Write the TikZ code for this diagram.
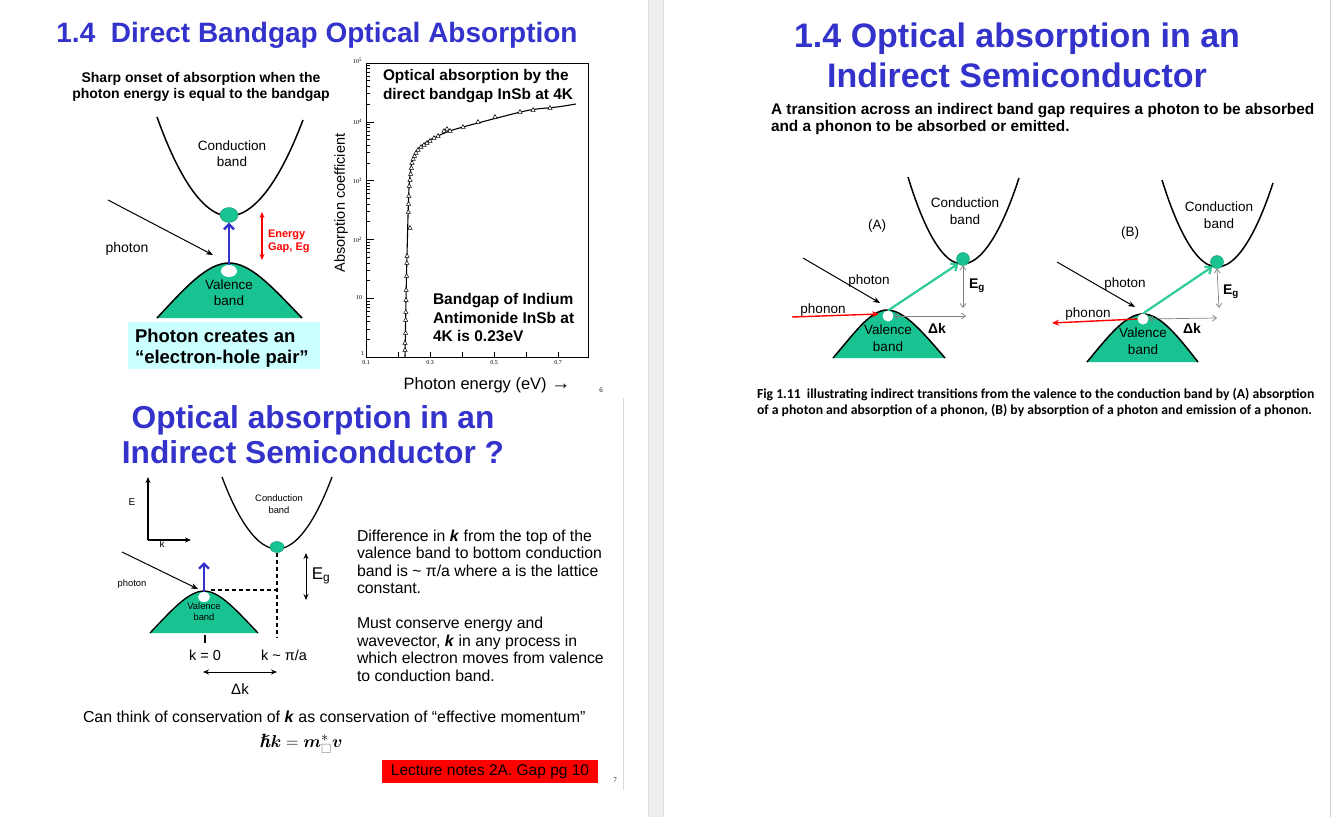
\documentclass[tikz,border=0pt]{standalone}
\usepackage{amsmath,amssymb,bm}
\usepackage{fontspec}
\setmainfont{Liberation Sans}
\newfontfamily\calfont{Carlito}
\newfontfamily\serfont{Liberation Serif}
\usetikzlibrary{arrows.meta,shapes.geometric}
\definecolor{ttl}{RGB}{51,51,204}
\definecolor{grn}{RGB}{25,195,145}
\definecolor{garrow}{RGB}{45,205,150}
\definecolor{cyanbox}{RGB}{204,255,255}
\definecolor{sep}{RGB}{238,238,238}
\definecolor{sepline}{RGB}{218,218,218}
\newcommand\fz[2]{\fontsize{#1pt}{#2pt}\selectfont}
\begin{document}
\begin{tikzpicture}[x=1pt,y=-1pt,
  every node/.style={inner sep=0pt,outer sep=0pt},
  band/.style={line width=1.5pt},
  bandS/.style={line width=1.3pt},
  photonarr/.style={line width=1pt,-{Stealth[length=7pt,width=5.5pt]}},
  bluearr/.style={draw=ttl,line width=2.6pt,-{Straight Barb[length=5pt,width=10pt]}},
  greenarr/.style={draw=garrow,line width=2.2pt,-{Straight Barb[length=5pt,width=9pt]}},
  phononarr/.style={draw=red,line width=1.4pt,-{Stealth[length=7pt,width=6pt]}},
  grayarr/.style={draw=gray,line width=0.7pt,{Straight Barb[length=4pt,width=6pt]}-{Straight Barb[length=4pt,width=6pt]}},
  dblarr/.style={line width=1pt,{Stealth[length=6pt,width=5pt]}-{Stealth[length=6pt,width=5pt]}},
  electron/.style={ellipse,fill=grn,draw=grn!75!black,line width=0.4pt},
  hole/.style={ellipse,fill=white},
  dashln/.style={line width=1.2pt,dash pattern=on 4pt off 3pt},
  ]
\useasboundingbox (0,0) rectangle (1334,817);
\fill[white] (0,0) rectangle (1334,817);
\fill[sep] (648,0) rectangle (663,817);
\draw[sepline,line width=0.8pt] (648,0) -- (648,817) (663,0) -- (663,817);
\draw[gray!40,line width=0.8pt] (1330,0) -- (1330,817);
\draw[gray!30,line width=0.8pt] (623,398) -- (623,790);

% ================= slide 6 =================
\node[font=\bfseries\fz{28}{32},text=ttl] (t6) at (317,35) {1.4\ \ Direct Bandgap Optical Absorption};
\node[font=\bfseries\fz{14}{16},align=center] (s6) at (201,87.4) {Sharp onset of absorption when the\\photon energy is equal to the bandgap};

\draw[band] (157,117) parabola bend (229,216) (303,120);
\node[font=\fz{13.5}{16},align=center] (cb6) at (232,154) {Conduction\\band};
\fill[grn] (157,318) .. controls (185,288) and (207,263) .. (229,263) .. controls (251,263) and (273,288) .. (302,318) -- cycle;
\draw[band] (157,318) .. controls (185,288) and (207,263) .. (229,263) .. controls (251,263) and (273,288) .. (302,318);
\node[font=\fz{13.5}{16},align=center] (vb6) at (229,293) {Valence\\band};
\node[electron,minimum width=18pt,minimum height=15pt] (e6) at (229,215) {};
\node[hole,minimum width=16pt,minimum height=12pt] (h6) at (229,271) {};
\draw[bluearr] (h6.north) -- (e6.south);
\coordinate (p6s) at (108,200);
\coordinate (p6e) at (213,255);
\draw[photonarr] (p6s) -- (p6e);
\node[font=\fz{14}{16}] (ph6) at (127,248.4) {photon};
\coordinate (g6t) at (262,212);
\coordinate (g6b) at (262,260);
\draw[dblarr,draw=red,line width=1.3pt] (g6t) -- (g6b);
\node[font=\bfseries\fz{11}{12.5},text=red,align=left,anchor=west] (eg6) at (268,241.5) {Energy\\Gap, Eg};

\node[fill=cyanbox,minimum width=192pt,minimum height=47pt] (cy) at (224,345.5) {};
\node[font=\bfseries\fz{18.5}{21},align=left,anchor=west] (cyt) at (135,348.3) {Photon creates an\\“electron-hole pair”};

% graph
\draw[line width=0.9pt] (366,63) rectangle (588,357);
\foreach \d in {0,...,4}{
  \foreach \m in {2,...,9}{
    \pgfmathsetmacro\yy{357-58.8*(\d+log10(\m))}
    \draw[line width=0.5pt] (366,\yy) -- (370,\yy);
  }
}
\foreach \d in {1,...,4}{
  \draw[line width=0.6pt] (366,{357-58.8*\d}) -- (374,{357-58.8*\d});
}
\foreach \xx in {398,430,462,494,526,558}{
  \draw[line width=0.5pt] (\xx,357) -- (\xx,352);
}
\node[font=\serfont\fz{6}{7},anchor=east] (y5) at (362,61) {10\textsuperscript{5}};
\node[font=\serfont\fz{6}{7},anchor=east] (y4) at (362,122) {10\textsuperscript{4}};
\node[font=\serfont\fz{6}{7},anchor=east] (y3) at (362,181) {10\textsuperscript{3}};
\node[font=\serfont\fz{6}{7},anchor=east] (y2) at (362,240) {10\textsuperscript{2}};
\node[font=\serfont\fz{6}{7},anchor=east] (y1) at (362,298) {10};
\node[font=\serfont\fz{6}{7},anchor=east] (y0) at (364,354) {1};
\node[font=\serfont\fz{6}{7}] (x1) at (366,363) {0.1};
\node[font=\serfont\fz{6}{7}] (x3) at (430,363) {0.3};
\node[font=\serfont\fz{6}{7}] (x5) at (494,363) {0.5};
\node[font=\serfont\fz{6}{7}] (x7) at (558,363) {0.7};
\draw[line width=1.1pt] plot[smooth,tension=0.5] coordinates {(405,357) (406,300) (407,255) (409,188) (412,162) (417,150) (430,140) (447,132) (463,127) (497,118) (530,110) (557,107) (576,104)};
\foreach \px/\py in {405/350,405/343,405.5/333,405.7/320,405.8/312,406/300,406.2/290,406.6/276,406.8/263,407/256,410/228,408.3/212,408.6/204,408.8/196,409.3/186,410/180,410.7/174,411.3/168,412/163,413.2/159,414.5/156,416/153,418/150,421/147,424/145,427/143,430/141,434/138,438/136,444/131,447/129,450/131,463/127,478/122,495/117,520/112,533/110,550/108}{
  \filldraw[fill=white,line width=0.5pt] (\px,\py) +(0,-2.4) -- +(2.1,1.3) -- +(-2.1,1.3) -- cycle;
}
\node[font=\bfseries\fz{15.4}{19},align=left,anchor=west] (gt1) at (383,86.5) {Optical absorption by the\\direct bandgap InSb at 4K};
\node[font=\bfseries\fz{15.5}{18.5},align=left,anchor=west] (gt2) at (433,317.5) {Bandgap of Indium\\Antimonide InSb at\\4K is 0.23eV};
\node[font=\fz{14.5}{16},rotate=90] (yl) at (341,203) {Absorption coefficient};
\node[font=\fz{16.5}{18}] (xl) at (487,385.5) {Photon energy (eV) {\fz{19}{18}→}};
\node[font=\serfont\fz{7}{8}] (n6) at (601,390) {6};

% ================= slide 7 =================
\node[font=\bfseries\fz{31.7}{35},text=ttl,align=center] (t7) at (313,434.5) {Optical absorption in an\\Indirect Semiconductor ?};
\coordinate (ax0) at (148,540);
\coordinate (axE) at (148,477);
\coordinate (axk) at (191,540);
\draw[line width=1.3pt,-{Stealth[length=6pt,width=5pt]}] (ax0) -- (axE);
\draw[line width=1.3pt,-{Stealth[length=6pt,width=5pt]}] (ax0) -- (axk);
\node[font=\fz{10}{12}] (lE) at (132,502) {E};
\node[font=\fz{10}{12}] (lk) at (162,544) {k};

\draw[bandS] (222,477) parabola bend (277,549) (332,477);
\node[font=\fz{9.4}{11.5},align=center] (cb7) at (279,504) {Conduction\\band};
\node[electron,minimum width=14pt,minimum height=11pt] (e7) at (277,547) {};
\coordinate (d7b) at (277,638);
\draw[dashln] (e7.south) -- (d7b);
\coordinate (g7t) at (306,553);
\coordinate (g7b) at (306,600);
\draw[dblarr] (g7t) -- (g7b);
\node[font=\fz{17}{20}] (eg7) at (321,576) {E\textsubscript{g}};
\fill[grn] (150,633) .. controls (170,612) and (188,591) .. (204,591) .. controls (220,591) and (238,612) .. (258,633) -- cycle;
\draw[bandS] (150,633) .. controls (170,612) and (188,591) .. (204,591) .. controls (220,591) and (238,612) .. (258,633);
\node[hole,minimum width=12pt,minimum height=10pt] (h7) at (204,597) {};
\node[font=\fz{9.4}{11},align=center] (vb7) at (204,612) {Valence\\band};
\coordinate (b7t) at (204,562);
\draw[bluearr,line width=2.4pt] (h7.north) -- (b7t);
\coordinate (p7s) at (122,552);
\coordinate (p7e) at (198,589);
\draw[photonarr] (p7s) -- (p7e);
\node[font=\fz{9.4}{11}] (ph7) at (132,584) {photon};
\coordinate (d7a) at (211,590);
\coordinate (d7c) at (277,590);
\draw[dashln] (d7a) -- (d7c);
\coordinate (k0t) at (205,635);
\coordinate (k0b) at (205,643);
\draw[line width=1.3pt] (k0t) -- (k0b);
\node[font=\fz{14.5}{17}] (k0) at (205,655) {k = 0};
\node[font=\fz{14.5}{17}] (kpa) at (284,655) {k \textasciitilde{} π/a};
\coordinate (dk1) at (203,672);
\coordinate (dk2) at (277,672);
\draw[dblarr] (dk1) -- (dk2);
\node[font=\fz{15}{17}] (dk) at (240,689) {Δk};

\node[font=\fz{15.8}{17.4},align=left,anchor=west] (tx1) at (357,562) {Difference in \textbf{\textit{k}} from the top of the\\valence band to bottom conduction\\band is \textasciitilde{} π/a where a is the lattice\\constant.};
\node[font=\fz{15.8}{17.6},align=left,anchor=west] (tx2) at (357,649.5) {Must conserve energy and\\wavevector, \textbf{\textit{k}} in any process in\\which electron moves from valence\\to conduction band.};
\node[font=\fz{15.9}{17},anchor=west] (cons) at (83,717) {Can think of conservation of \textbf{\textit{k}} as conservation of “effective momentum”};
\node[font=\fz{19}{21}] (frm) at (301,744) {$\bm{\hslash}\bm{k}=\bm{m}^{*}_{\color{gray}\square}\bm{v}$};
\node[fill=red,minimum width=216pt,minimum height=23pt,font=\fz{15.5}{17}] (rb) at (490,771.5) {Lecture notes 2A. Gap pg 10};
\node[font=\serfont\fz{7}{8}] (n7) at (615,780) {7};

% ================= right page =================
\node[font=\bfseries\fz{34}{40},text=ttl,align=center] (t8) at (1017,55) {1.4 Optical absorption in an\\Indirect Semiconductor};
\node[font=\bfseries\fz{15.4}{17},align=left,anchor=west] (s8) at (771,119) {A transition across an indirect band gap requires a photon to be absorbed\\and a phonon to be absorbed or emitted.};

% (A)
\draw[band] (908,177) parabola bend (962,264) (1019,178);
\node[font=\fz{13.5}{17},align=center] (cbA) at (965,211.5) {Conduction\\band};
\node[font=\fz{13.5}{16}] (lA) at (877,226.5) {(A)};
\fill[grn] (833,358) .. controls (853,335) and (870,310) .. (887,310) .. controls (905,310) and (925,335) .. (945,358) -- cycle;
\draw[band] (833,358) .. controls (853,335) and (870,310) .. (887,310) .. controls (905,310) and (925,335) .. (945,358);
\node[electron,minimum width=13pt,minimum height=13pt] (eA) at (963,259) {};
\node[hole,minimum width=11pt,minimum height=11pt] (hA) at (888,316) {};
\node[font=\fz{13.5}{17},align=center] (vbA) at (888,338.5) {Valence\\band};
\coordinate (pAs) at (803,258);
\coordinate (pAe) at (880,303);
\draw[photonarr] (pAs) -- (pAe);
\node[font=\fz{13.5}{16}] (phA) at (869,281.4) {photon};
\coordinate (nAs) at (792,317);
\coordinate (nAe) at (879,314);
\draw[phononarr] (nAs) -- (nAe);
\node[font=\fz{13.5}{16}] (pnA) at (823,310.4) {phonon};
\draw[greenarr] (hA.north) -- (eA.south west);
\coordinate (gAb) at (963,308);
\draw[grayarr] (eA.south) -- (gAb);
\node[font=\bfseries\fz{14}{16}] (egA) at (977,286) {E\textsubscript{g}};
\coordinate (dkAe) at (966,316);
\draw[grayarr] (hA.east) -- (dkAe);
\node[font=\bfseries\fz{14}{16}] (dkA) at (937,328) {Δk};

% (B)
\draw[band] (1162,180) parabola bend (1217,267) (1273,183);
\node[font=\fz{13.5}{17},align=center] (cbB) at (1219,215) {Conduction\\band};
\node[font=\fz{13.5}{16}] (lB) at (1130,233) {(B)};
\fill[grn] (1087,362) .. controls (1107,338) and (1125,314) .. (1143,314) .. controls (1161,314) and (1179,338) .. (1198,362) -- cycle;
\draw[band] (1087,362) .. controls (1107,338) and (1125,314) .. (1143,314) .. controls (1161,314) and (1179,338) .. (1198,362);
\node[electron,minimum width=13pt,minimum height=13pt] (eB) at (1217,262) {};
\node[hole,minimum width=11pt,minimum height=11pt] (hB) at (1143,319) {};
\node[font=\fz{13.5}{17},align=center] (vbB) at (1143,341.5) {Valence\\band};
\coordinate (pBs) at (1057,262);
\coordinate (pBe) at (1135,307);
\draw[photonarr] (pBs) -- (pBe);
\node[font=\fz{13.5}{16}] (phB) at (1125,284.4) {photon};
\coordinate (nBe) at (1052,323);
\draw[phononarr] (hB.west) -- (nBe);
\node[font=\fz{13.5}{16}] (pnB) at (1088,314.4) {phonon};
\draw[greenarr] (hB.north) -- (eB.south west);
\coordinate (gBb) at (1219,308);
\draw[grayarr] (eB.south) -- (gBb);
\node[font=\bfseries\fz{14}{16}] (egB) at (1231,292) {E\textsubscript{g}};
\coordinate (dkBe) at (1217,318);
\draw[grayarr] (hB.east) -- (dkBe);
\node[font=\bfseries\fz{14}{16}] (dkB) at (1192,328) {Δk};

\node[font=\calfont\bfseries\fz{13.7}{16},align=left,anchor=west] (cap) at (757,402) {Fig 1.11\ \ illustrating indirect transitions from the valence to the conduction band by (A) absorption\\of a photon and absorption of a phonon, (B) by absorption of a photon and emission of a phonon.};
\end{tikzpicture}
\end{document}
